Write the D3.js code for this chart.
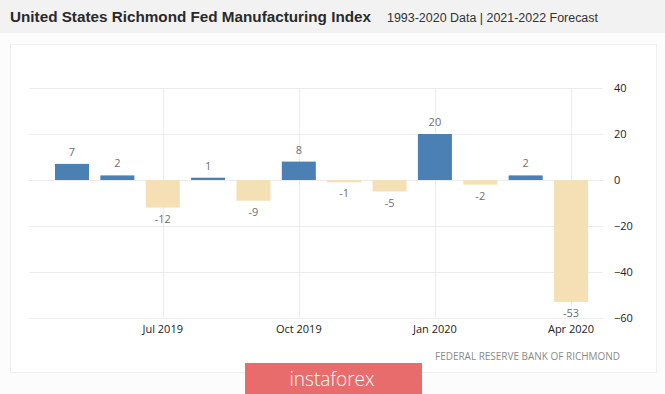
<!DOCTYPE html>
<html><head><meta charset="utf-8">
<script src="https://cdn.jsdelivr.net/npm/d3@7"></script>
<style>html,body{margin:0;padding:0;background:#fcfcfc;}svg{display:block;}</style>
</head><body>
<script>
const months = ["May 2019","Jun 2019","Jul 2019","Aug 2019","Sep 2019","Oct 2019","Nov 2019","Dec 2019","Jan 2020","Feb 2020","Mar 2020","Apr 2020"];
const values = [7,2,-12,1,-9,8,-1,-5,20,-2,2,-53];
const xTickLabels = ["Jul 2019","Oct 2019","Jan 2020","Apr 2020"];
const yTicks = [40,20,0,-20,-40,-60];

const W=665,H=394;
const svg=d3.select("body").append("svg").attr("width",W).attr("height",H);

// title bar
svg.append("rect").attr("x",0).attr("y",0).attr("width",W).attr("height",33).attr("fill","#f2f2f2");
svg.append("text").attr("x",10).attr("y",22).attr("font-family","Liberation Sans, Arial, sans-serif")
  .attr("font-weight","bold").attr("font-size",15.5).attr("fill","#2a2a2a")
  .attr("textLength",361).attr("lengthAdjust","spacingAndGlyphs")
  .text("United States Richmond Fed Manufacturing Index");
svg.append("text").attr("x",387).attr("y",22).attr("font-family","Liberation Sans, Arial, sans-serif")
  .attr("font-size",12.5).attr("fill","#333")
  .attr("textLength",211).attr("lengthAdjust","spacingAndGlyphs")
  .text("1993-2020 Data | 2021-2022 Forecast");

// panel
svg.append("rect").attr("x",10.5).attr("y",44.5).attr("width",646).attr("height",328).attr("fill","#fff").attr("stroke","#f0f0f0");

const x=d3.scaleBand().domain(months).range([49.3,593.7]).paddingInner(0.25).paddingOuter(0.125);
const y=d3.scaleLinear().domain([-60,40]).range([318,88]);

const font="Open Sans, DejaVu Sans, sans-serif";

// horizontal grid
svg.append("g").selectAll("line").data(yTicks).join("line")
  .attr("x1",29).attr("x2",603).attr("y1",d=>Math.round(y(d))+0.5).attr("y2",d=>Math.round(y(d))+0.5)
  .attr("stroke","#ececec");
// vertical grid
svg.append("g").selectAll("line").data(xTickLabels).join("line")
  .attr("x1",d=>Math.round(x(d)+x.bandwidth()/2)+0.5).attr("x2",d=>Math.round(x(d)+x.bandwidth()/2)+0.5)
  .attr("y1",y(40)).attr("y2",y(-60)).attr("stroke","#ececec");

// bars
svg.append("g").selectAll("rect").data(values).join("rect")
  .attr("x",(d,i)=>x(months[i])).attr("width",x.bandwidth())
  .attr("y",d=>y(Math.max(0,d))).attr("height",d=>Math.abs(y(d)-y(0)))
  .attr("fill",d=>d>=0?"#4a80b3":"#f5dfb5");

// value labels
svg.append("g").selectAll("text").data(values).join("text")
  .attr("x",(d,i)=>x(months[i])+x.bandwidth()/2)
  .attr("y",d=>d>=0?y(d)-8:y(d)+15)
  .attr("text-anchor","middle").attr("font-family",font).attr("font-size",11).attr("fill","#6f6f6f")
  .text(d=>d);

// right axis
const yAxis=d3.axisRight(y).tickValues(yTicks).tickSize(0).tickPadding(0);
const ga=svg.append("g").attr("transform","translate(614,0)").call(yAxis);
ga.select(".domain").remove();
ga.selectAll("text").attr("font-family",font).attr("font-size",11).attr("fill","#222").attr("dy","0.32em");

// bottom axis
const xAxis=d3.axisBottom(x).tickValues(xTickLabels).tickSize(0).tickPadding(0);
const gx=svg.append("g").attr("transform","translate(0,329)").call(xAxis);
gx.select(".domain").remove();
gx.selectAll("text").attr("font-family",font).attr("font-size",11).attr("fill","#222").attr("dy","0.32em");

// source
svg.append("text").attr("x",620).attr("y",360).attr("text-anchor","end")
  .attr("font-family",font).attr("font-size",10).attr("fill","#8a8a8a")
  .attr("textLength",185).attr("lengthAdjust","spacingAndGlyphs")
  .text("FEDERAL RESERVE BANK OF RICHMOND");

// watermark
svg.append("rect").attr("x",245).attr("y",363).attr("width",177).attr("height",31).attr("fill","#e96c6c");
svg.append("text").attr("x",332).attr("y",386).attr("text-anchor","middle")
  .attr("font-family",font).attr("font-size",21).attr("fill","#fff").attr("font-weight",300)
  .attr("textLength",85).attr("lengthAdjust","spacingAndGlyphs")
  .text("instaforex");
</script>
</body></html>
